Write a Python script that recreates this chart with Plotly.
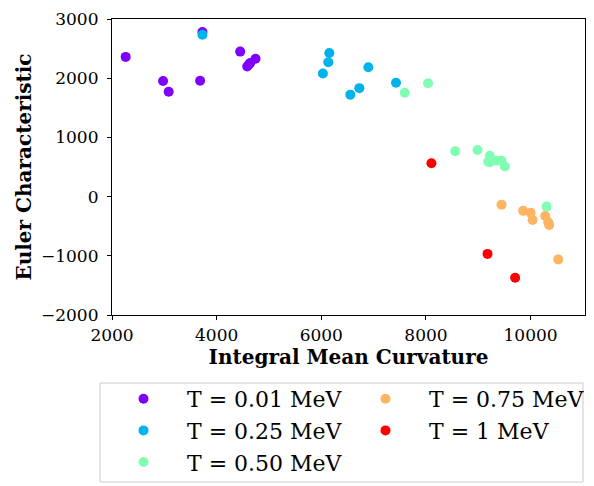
import plotly.graph_objects as go

labels = ["T = 0.01 MeV", "T = 0.25 MeV", "T = 0.50 MeV", "T = 0.75 MeV", "T = 1 MeV"]
colors = ["#8000ff", "#00b4eb", "#80ffb4", "#ffb462", "#ff0000"]

x_001 = [2261, 2976, 3083, 3684, 3728, 4450, 4584, 4615, 4641, 4743]
y_001 = [2360, 1952, 1771, 1957, 2780, 2449, 2198, 2230, 2258, 2329]

x_025 = [3728, 6153, 6134, 6031, 6899, 6727, 6555, 7428]
y_025 = [2735, 2427, 2268, 2078, 2186, 1832, 1722, 1924]

x_050 = [8040, 7594, 8560, 8985, 9221, 9221, 9349, 9445, 9508, 9190, 10306]
y_050 = [1914, 1755, 766, 787, 689, 579, 607, 607, 508, 590, -169]

x_075 = [9445, 9858, 10000, 10038, 10280, 10337, 10356, 10528]
y_075 = [-136, -241, -274, -394, -328, -432, -481, -1061]

x_100 = [8105, 9177, 9705]
y_100 = [563, -968, -1372]

xs = [x_001, x_025, x_050, x_075, x_100]
ys = [y_001, y_025, y_050, y_075, y_100]
# legend order to mimic column-major 2-column layout
ranks = [1, 3, 5, 2, 4]

x_ticks = [2000, 4000, 6000, 8000, 10000]
x_ticktext = ["2000", "4000", "6000", "8000", "10000"]
y_ticks = [-2000, -1000, 0, 1000, 2000, 3000]
y_ticktext = ["\u22122000", "\u22121000", "0", "1000", "2000", "3000"]

FONT = "DejaVu Serif"

fig = go.Figure()
for lab, col, x, y, r in zip(labels, colors, xs, ys, ranks):
    fig.add_trace(go.Scatter(x=x, y=y, mode="markers", name=lab,
                             marker=dict(color=col, size=10, line=dict(width=0)),
                             legendrank=r))

# page body has an 8px margin; figure coords = screen coords - 8
W, H = 586, 478
ml, mr, mt, mb = 104, 9, 11, 171
pw, ph = W - ml - mr, H - mt - mb

def px2x(p):
    return (p - ml) / pw

def py2y(p):
    return (H - mb - p) / ph

fig.update_layout(
    width=W, height=H,
    margin=dict(l=ml, r=mr, t=mt, b=mb, autoexpand=False),
    paper_bgcolor="white", plot_bgcolor="white",
    font=dict(family=FONT, color="black", size=17),
    showlegend=True,
    legend=dict(
        orientation="h",
        x=px2x(92), y=py2y(370), xanchor="left", yanchor="top",
        borderwidth=0, bgcolor="rgba(0,0,0,0)",
        font=dict(family=FONT, size=22),
        itemwidth=77,
        entrywidth=150, entrywidthmode="pixels",
        traceorder="normal",
    ),
    xaxis=dict(
        range=[2000, 11040], tickvals=x_ticks, ticktext=x_ticktext,
        showline=True, mirror=True, linecolor="black", linewidth=1.2,
        ticks="outside", ticklen=4, tickwidth=1, tickcolor="black",
        showgrid=False, zeroline=False, automargin=False,
        tickfont=dict(size=17),
        title=dict(text="<b>Integral Mean Curvature</b>", font=dict(size=20), standoff=5),
    ),
    yaxis=dict(
        range=[-2000, 3000], tickvals=y_ticks, ticktext=y_ticktext,
        showline=True, mirror=True, linecolor="black", linewidth=1.2,
        ticks="outside", ticklen=4, tickwidth=1, tickcolor="black",
        showgrid=False, zeroline=False, automargin=False,
        ticklabelstandoff=5,
        tickfont=dict(size=17),
        title=dict(text="<b>Euler Characteristic</b>", font=dict(size=20), standoff=3),
    ),
)

# legend frame (matplotlib-style light grey box)
fig.add_shape(type="rect", xref="paper", yref="paper",
              x0=px2x(92), x1=px2x(575), y0=py2y(474), y1=py2y(375),
              line=dict(color="#cccccc", width=1), fillcolor="rgba(0,0,0,0)",
              layer="below")

fig.write_html("out.html")
